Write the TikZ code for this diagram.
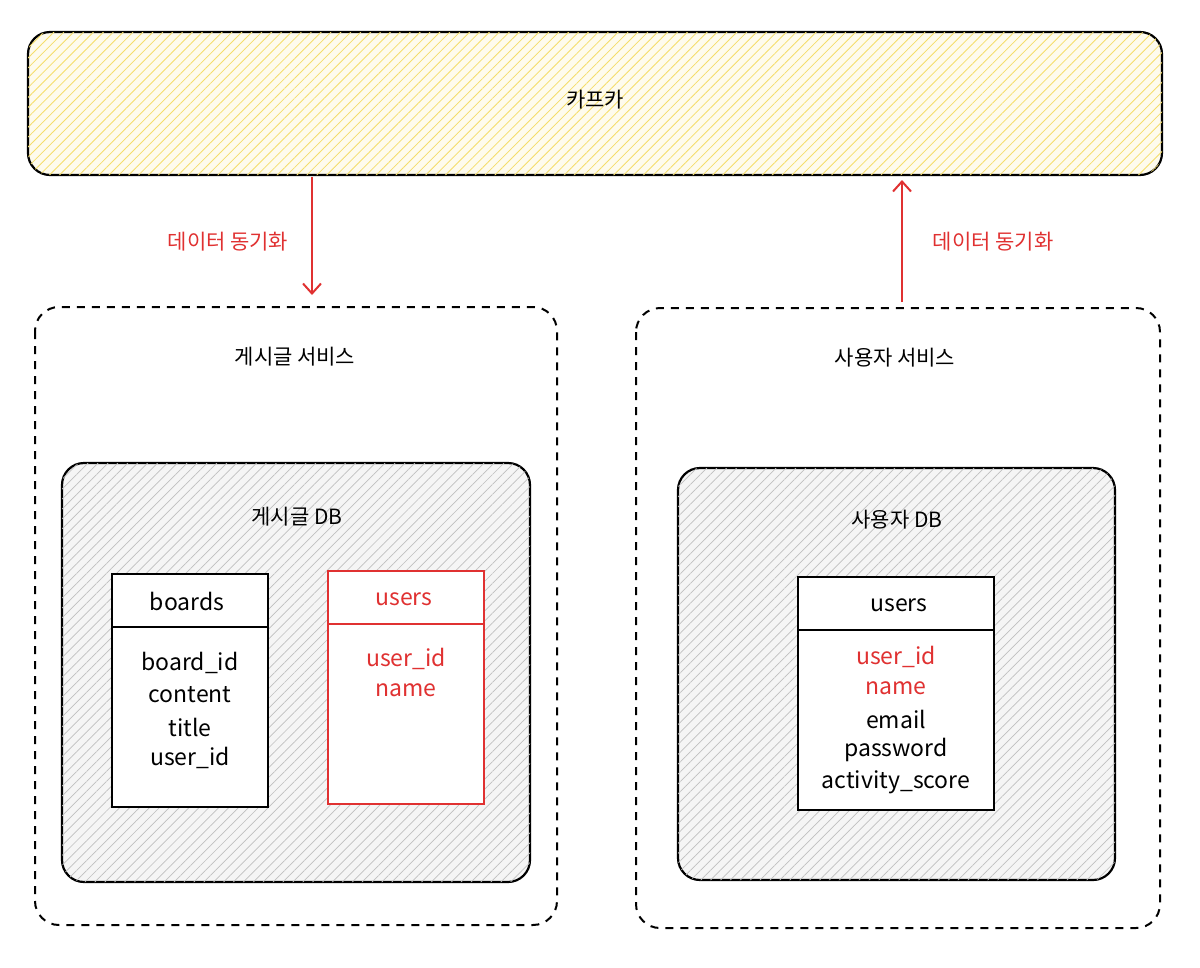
\documentclass[tikz,border=0pt]{standalone}
\usepackage{fontspec}
\setmainfont{Noto Sans CJK KR}
\usetikzlibrary{patterns.meta,arrows.meta}
\definecolor{kred}{HTML}{E03131}
\definecolor{kyel}{HTML}{F5DD6A}
\begin{document}
\begin{tikzpicture}[x=1pt,y=-1pt,
  lbl/.style={font=\fontsize{21}{25}\selectfont},
  fld/.style={font=\fontsize{23}{27}\selectfont},
  box/.style={draw=black,line width=2.2pt,rounded corners=22pt},
  svc/.style={draw=black,line width=2pt,dash pattern=on 8pt off 7pt,rounded corners=24pt},
  tbl/.style={draw=black,line width=1.8pt},
  arr/.style={draw=kred,line width=2pt,-{Straight Barb[length=10pt,width=18pt]}}]
\useasboundingbox (0,0) rectangle (1200,967);
% Kafka
\draw[box,fill=kyel!12,postaction={pattern={Lines[angle=45,distance=7pt,line width=0.8pt]},pattern color=kyel}] (28,32) rectangle (1162,175);
\node[lbl] (kafka) at (595,100) {카프카};
\coordinate (kl) at (312,177); \coordinate (kr) at (902,180);
% services
\draw[svc] (35,307) rectangle (557,925);
\node[lbl] (ls) at (295,357) {게시글 서비스};
\draw[svc] (636,308) rectangle (1160,928);
\node[lbl] (rs) at (895,358) {사용자 서비스};
\coordinate (lt) at (312,295); \coordinate (rt) at (902,302);
\draw[arr] (kl) -- (lt);
\draw[arr] (rt) -- (kr);
\node[lbl,text=kred] (la) at (228,242) {데이터 동기화};
\node[lbl,text=kred] (ra) at (993,242) {데이터 동기화};
% DBs
\draw[box,fill=gray!8,postaction={pattern={Lines[angle=45,distance=7pt,line width=0.7pt]},pattern color=gray!50}] (62,463) rectangle (530,882);
\node[lbl] (ldb) at (297,517) {게시글 DB};
\draw[box,fill=gray!8,postaction={pattern={Lines[angle=45,distance=7pt,line width=0.7pt]},pattern color=gray!50}] (678,468) rectangle (1115,880);
\node[lbl] (rdb) at (897,520) {사용자 DB};
% boards
\draw[tbl,fill=white] (112,574) rectangle (268,807);
\draw[tbl] (112,627) -- (268,627);
\node[fld] (b0) at (187,601) {boards};
\node[fld] (b1) at (190,663) {board\_id};
\node[fld] (b2) at (190,695) {content};
\node[fld] (b3) at (190,727) {title};
\node[fld] (b4) at (190,758) {user\_id};
% users red
\draw[tbl,draw=kred,fill=white] (328,571) rectangle (484,804);
\draw[tbl,draw=kred] (328,624) -- (484,624);
\node[fld,text=kred] (u0) at (404,599) {users};
\node[fld,text=kred] (u1) at (406,659) {user\_id};
\node[fld,text=kred] (u2) at (406,690) {name};
% users right
\draw[tbl,fill=white] (798,577) rectangle (994,810);
\draw[tbl] (798,630) -- (994,630);
\node[fld] (r0) at (899,605) {users};
\node[fld,text=kred] (r1) at (896,657) {user\_id};
\node[fld,text=kred] (r2) at (896,688) {name};
\node[fld] (r3) at (896,719) {email};
\node[fld] (r4) at (896,750) {password};
\node[fld] (r5) at (896,782) {activity\_score};
\end{tikzpicture}
\end{document}
